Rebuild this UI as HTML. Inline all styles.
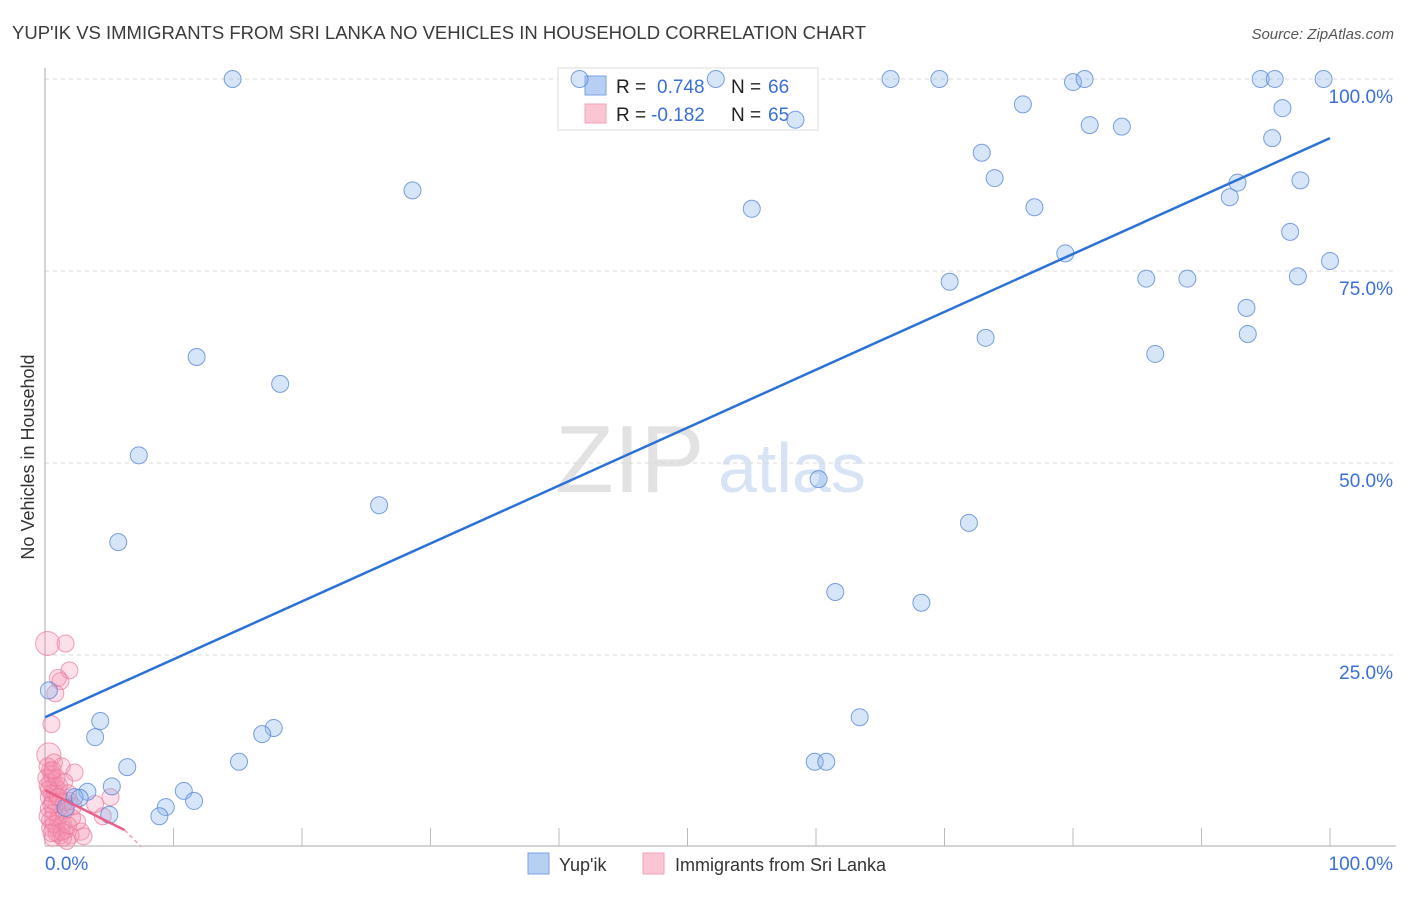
<!DOCTYPE html>
<html><head><meta charset="utf-8"><style>
body{margin:0;background:#fff;font-family:"Liberation Sans",Arial,sans-serif;}
svg text{font-family:"Liberation Sans",Arial,sans-serif;}
</style></head><body>
<svg id="chart" width="1406" height="892">
<text x="12" y="39" font-size="18.5" fill="#3a3a3a">YUP'IK VS IMMIGRANTS FROM SRI LANKA NO VEHICLES IN HOUSEHOLD CORRELATION CHART</text>
<text x="1394" y="39" font-size="15" fill="#555" text-anchor="end" font-style="italic">Source: ZipAtlas.com</text>
<text x="34" y="457" font-size="18" fill="#333" text-anchor="middle" transform="rotate(-90 34 457)">No Vehicles in Household</text>
<g>
<text x="555" y="492" font-size="96" font-family="Liberation Serif,serif" fill="#e2e2e2">ZIP</text>
<text x="718" y="492" font-size="70" fill="#d6e4f5">atlas</text>
</g>
<g id="grid"></g>
<g>
<rect x="558" y="68" width="260" height="62" fill="#fff" stroke="#ddd"/>
<rect x="585" y="76" width="21" height="19" fill="#b7cff3" stroke="#7aa3e6"/>
<rect x="585" y="104" width="21" height="19" fill="#fbc6d4" stroke="#f4a0b8"/>
<text x="616" y="93" font-size="19" fill="#222">R = </text><text x="657" y="93" font-size="19" fill="#3a6fd8">0.748</text>
<text x="731" y="93" font-size="19" fill="#222">N = </text><text x="768" y="93" font-size="19" fill="#3a6fd8">66</text>
<text x="616" y="121" font-size="19" fill="#222">R = </text><text x="651" y="121" font-size="19" fill="#3a6fd8">-0.182</text>
<text x="731" y="121" font-size="19" fill="#222">N = </text><text x="768" y="121" font-size="19" fill="#3a6fd8">65</text>
</g>
<g id="pts"></g>
<g id="trend"></g>
<g>
<rect x="528" y="853" width="21" height="21" fill="#b7cff3" stroke="#7aa3e6"/>
<text x="559" y="871" font-size="18" fill="#333">Yup'ik</text>
<rect x="643" y="853" width="21" height="21" fill="#fbc6d4" stroke="#f4a0b8"/>
<text x="675" y="871" font-size="18" fill="#333">Immigrants from Sri Lanka</text>
</g>
</svg>
<script>
const yTicks=[25,50,75,100];
const yTickLabels=["25.0%","50.0%","75.0%","100.0%"];
const xTicks=[0,10,20,30,40,50,60,70,80,90,100];
const blueX=[14.6,41.6,52.2,65.8,69.6,80,80.9,94.6,95.7,99.5,58.4,76.1,96.3,81.3,83.8,95.5,72.9,28.6,73.9,55.0,92.8,97.7,92.2,77.0,96.9,79.4,100,70.4,85.7,88.9,97.5,93.5,93.6,73.2,86.4,11.8,18.3,7.3,60.2,26.0,71.9,5.7,61.5,68.2,0.3,63.4,4.3,3.9,17.8,16.9,15.1,6.4,59.9,60.8,5.2,10.8,3.3,2.3,11.6,9.4,8.9,5.0,2.7,1.6];
const blueY=[100,100,100,100,100,99.6,100,100,100,100,94.7,96.7,96.2,94.0,93.8,92.3,90.4,85.5,87.1,83.1,86.5,86.8,84.6,83.3,80.1,77.3,76.3,73.6,74.0,74.0,74.3,70.2,66.8,66.3,64.2,63.8,60.3,51.0,47.9,44.5,42.2,39.7,33.2,31.8,20.4,16.9,16.4,14.3,15.5,14.7,11.1,10.4,11.1,11.1,7.9,7.3,7.2,6.5,6.0,5.2,4.0,4.2,6.4,5.1];
const pinkX=[0.2,1.6,1.9,1.2,1.0,0.8,0.5,0.3,0.4,0.6,0.8,1.0,0.5,0.3,1.2,0.9,2.3,1.5,0.7,1.1,0.4,1.4,0.9,1.6,2.8,1.2,0.6,2.0,1.7,0.5,0.2,0.4,0.7,1.3,1.8,1.6,5.1,4.5,3.9,2.5,1.0,0.3,0.6,0.8,1.1,1.9,2.2,0.4,0.9,1.4,0.2,0.1,0.3,0.5,0.7,1.5,2.1,1.3,0.9,0.6,1.8,3.0,0.2,1.0,0.5];
const pinkY=[26.5,26.5,23,21.6,22,20,16,12,10,9,8,7.5,7,6.5,6,5.5,9.7,8.5,4.5,4,3.5,3,2.5,2.2,2.0,1.5,1.2,1.5,0.8,9.5,10.5,8.4,11,10.5,7,4.8,6.5,4,5.6,3.3,3.5,5,6,7,8,6,5.3,2.5,1.8,1.2,8,9,7.5,5.5,3,5.8,3.8,2.0,9,10,2.8,1.4,4,6.5,1.8];
const blueTrend=[0,16.9,100,92.3];
const pinkTrend=[0,7.4,6.2,2.2,7.5,0];
const NS="http://www.w3.org/2000/svg";
const X0=45,X1=1330,Y0=847,Y1=79;
const sx=v=>X0+(X1-X0)*v/100, sy=v=>Y0-(Y0-Y1)*v/100;
function mk(tag,attrs,parent){const e=document.createElementNS(NS,tag);for(const k in attrs)e.setAttribute(k,attrs[k]);document.getElementById(parent).appendChild(e);return e;}
yTicks.forEach((t,i)=>{
 const l=mk('line',{x1:X0,x2:1395,y1:sy(t),y2:sy(t),stroke:'#d8d8d8','stroke-dasharray':'4,4'},'grid');
 
 
 const tx=mk('text',{x:1393,y:sy(t)+24,'font-size':19,fill:'#3a6fd8','text-anchor':'end'},'grid');
 tx.textContent=yTickLabels[i];
 
 
});
const ax=mk('line',{x1:X0,x2:X0,y1:68,y2:846,stroke:'#aaa'},'grid');


const bx=mk('line',{x1:X0,x2:X1+66,y1:846,y2:846,stroke:'#aaa'},'grid');


xTicks.forEach(t=>{
 const l=mk('line',{x1:sx(t),x2:sx(t),y1:828,y2:846,stroke:'#bbb'},'grid');
 
 
});
const xl0=mk('text',{x:45,y:870,'font-size':19,fill:'#3a6fd8'},'grid');xl0.textContent='0.0%';


const xl1=mk('text',{x:1393,y:870,'font-size':19,fill:'#3a6fd8','text-anchor':'end'},'grid');xl1.textContent='100.0%';


pinkX.forEach((v,i)=>{
 const r=(i===0||i===7)?12:8.5;
 const c=mk('circle',{cx:sx(v),cy:sy(pinkY[i]),r:r,fill:'rgba(244,150,180,0.3)',stroke:'rgba(236,120,155,0.7)','stroke-width':1},'pts');
 
 
});
blueX.forEach((v,i)=>{
 const c=mk('circle',{cx:sx(v),cy:sy(blueY[i]),r:8.5,fill:'rgba(140,180,235,0.35)',stroke:'rgba(80,130,215,0.75)','stroke-width':1},'pts');
 
 
});
const bt=mk('line',{x1:sx(blueTrend[0]),y1:sy(blueTrend[1]),x2:sx(blueTrend[2]),y2:sy(blueTrend[3]),stroke:'#2a72d8','stroke-width':2.5},'trend');


const pt=mk('line',{x1:sx(pinkTrend[0]),y1:sy(pinkTrend[1]),x2:sx(pinkTrend[2]),y2:sy(pinkTrend[3]),stroke:'#e8608a','stroke-width':2.5},'trend');


const pd=mk('line',{x1:sx(pinkTrend[2]),y1:sy(pinkTrend[3]),x2:sx(pinkTrend[4]),y2:sy(pinkTrend[5]),stroke:'#f0a0b8','stroke-width':1.5,'stroke-dasharray':'4,3'},'trend');


</script>
</body></html>
